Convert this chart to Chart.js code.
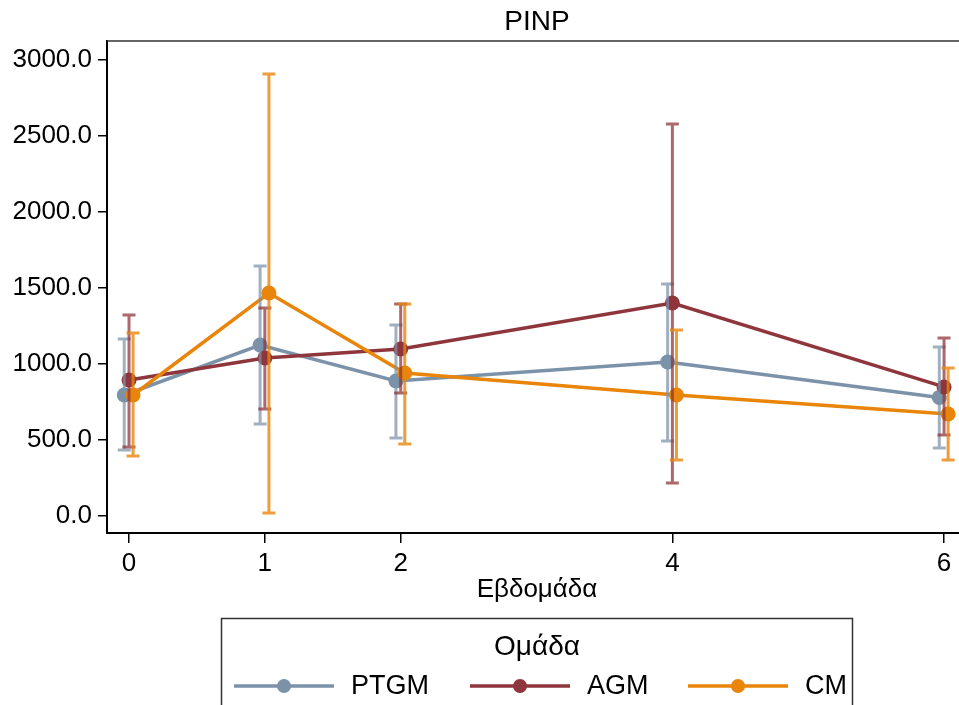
<!DOCTYPE html>
<html>
<head>
<meta charset="utf-8">
<script src="https://cdn.jsdelivr.net/npm/chart.js@4.4.1/dist/chart.umd.min.js"></script>
<style>
  body { margin: 0; background: #fff; }
  canvas { display: block; }
</style>
</head>
<body>
<canvas id="chart" width="959" height="705"></canvas>
<script>
// weeks on the x axis
var weeks = [0, 1, 2, 4, 6];
var yTicks = [0, 500, 1000, 1500, 2000, 2500, 3000];

var seriesNames = ['PTGM', 'AGM', 'CM'];

// means and error bar ends
var ptgmMean = [796, 1125, 888, 1013, 780];
var ptgmLow  = [434, 605, 513, 493, 447];
var ptgmHigh = [1164, 1645, 1257, 1526, 1112];

var agmMean = [895, 1039, 1099, 1401, 849];
var agmLow  = [454, 704, 809, 217, 533];
var agmHigh = [1322, 1368, 1395, 2579, 1171];

var cmMean = [796, 1467, 941, 796, 671];
var cmLow  = [395, 20, 474, 368, 368];
var cmHigh = [1204, 2908, 1395, 1224, 974];

var colors = ['#7b92a9', '#8f353c', '#e8850a'];
var barColors = ['rgba(123,146,169,0.72)', 'rgba(143,53,60,0.75)', 'rgba(232,133,10,0.8)'];
var dodge = [-0.035, 0, 0.03]; // small sideways shift so the bars don't overlap

var means = [ptgmMean, agmMean, cmMean];
var lows = [ptgmLow, agmLow, cmLow];
var highs = [ptgmHigh, agmHigh, cmHigh];

var FONT = '"Liberation Sans", Arial, sans-serif';

var datasets = seriesNames.map(function (name, i) {
    return {
        label: name,
        data: weeks.map(function (w, j) { return { x: w + dodge[i], y: means[i][j] }; }),
        borderColor: colors[i],
        backgroundColor: colors[i],
        borderWidth: 3.5,
        pointRadius: 7.5,
        pointHoverRadius: 7.5,
        pointBorderWidth: 0,
        tension: 0,
        fill: false,
        order: 3 - i
    };
});

var errorBars = {
    id: 'errorBars',
    afterDatasetsDraw: function (chart) {
        var ctx = chart.ctx, xs = chart.scales.x, ys = chart.scales.y;
        ctx.save();
        ctx.lineWidth = 3;
        for (var i = 0; i < seriesNames.length; i++) {
            ctx.strokeStyle = barColors[i];
            for (var j = 0; j < weeks.length; j++) {
                var px = xs.getPixelForValue(weeks[j] + dodge[i]);
                var top = ys.getPixelForValue(highs[i][j]);
                var bot = ys.getPixelForValue(lows[i][j]);
                ctx.beginPath();
                ctx.moveTo(px, top); ctx.lineTo(px, bot);
                ctx.moveTo(px - 6.5, top); ctx.lineTo(px + 6.5, top);
                ctx.moveTo(px - 6.5, bot); ctx.lineTo(px + 6.5, bot);
                ctx.stroke();
            }
        }
        ctx.restore();
    },
    afterDraw: function (chart) {
        var ctx = chart.ctx, area = chart.chartArea;
        ctx.save();
        // frame top line
        ctx.strokeStyle = '#333';
        ctx.lineWidth = 1.5;
        ctx.beginPath();
        ctx.moveTo(area.left, area.top); ctx.lineTo(area.right, area.top);
        ctx.stroke();

        ctx.fillStyle = '#000';
        ctx.textAlign = 'center';
        ctx.textBaseline = 'middle';
        ctx.font = '28px ' + FONT;
        ctx.fillText('PINP', 537, 22);

        ctx.font = '26px ' + FONT;
        ctx.fillText('Εβδομάδα', 537, 590);

        // legend
        ctx.strokeStyle = '#333';
        ctx.lineWidth = 1.5;
        ctx.strokeRect(221.5, 618.5, 631, 100);
        ctx.font = '28px ' + FONT;
        ctx.fillText('Ομάδα', 537, 647);
        var starts = [234, 470, 688];
        ctx.font = '27px ' + FONT;
        ctx.textAlign = 'left';
        for (var i = 0; i < seriesNames.length; i++) {
            var x0 = starts[i], yy = 686;
            ctx.strokeStyle = colors[i];
            ctx.lineWidth = 3.5;
            ctx.beginPath();
            ctx.moveTo(x0, yy); ctx.lineTo(x0 + 100, yy);
            ctx.stroke();
            ctx.fillStyle = colors[i];
            ctx.beginPath();
            ctx.arc(x0 + 50, yy, 7, 0, Math.PI * 2);
            ctx.fill();
            ctx.fillStyle = '#000';
            ctx.fillText(seriesNames[i], x0 + 117, yy + 1);
        }
        ctx.restore();
    }
};

var chart = new Chart(document.getElementById('chart').getContext('2d'), {
    type: 'line',
    data: { datasets: datasets },
    options: {
        responsive: false,
        animation: false,
        layout: { autoPadding: false, padding: { top: 41, left: 0, right: 0, bottom: 0 } },
        plugins: {
            legend: { display: false },
            title: { display: false },
            tooltip: { enabled: false }
        },
        scales: {
            x: {
                type: 'linear',
                min: -0.162,
                max: 6.11,
                afterFit: function (scale) {
                    scale.height = 172;
                    scale.paddingLeft = 0;
                    scale.paddingRight = 0;
                },
                afterBuildTicks: function (scale) {
                    scale.ticks = weeks.map(function (w) { return { value: w }; });
                },
                grid: { display: true, drawOnChartArea: false, drawTicks: true, tickLength: 10, color: '#000', lineWidth: 1.5 },
                border: { display: true, color: '#000', width: 2 },
                ticks: {
                    color: '#000',
                    font: { family: FONT, size: 26 },
                    padding: 5,
                    maxRotation: 0,
                    autoSkip: false,
                    callback: function (v) { return String(v); }
                }
            },
            y: {
                min: -112,
                max: 3125,
                afterFit: function (scale) {
                    scale.width = 107;
                    scale.paddingTop = 0;
                    scale.paddingBottom = 0;
                },
                afterBuildTicks: function (scale) {
                    scale.ticks = yTicks.map(function (v) { return { value: v }; });
                },
                grid: { display: true, drawOnChartArea: false, drawTicks: true, tickLength: 9, color: '#000', lineWidth: 1.5 },
                border: { display: true, color: '#000', width: 2 },
                ticks: {
                    color: '#000',
                    font: { family: FONT, size: 26 },
                    padding: 6,
                    callback: function (v) { return Number(v).toFixed(1); }
                }
            }
        }
    },
    plugins: [errorBars]
});
</script>
</body>
</html>
